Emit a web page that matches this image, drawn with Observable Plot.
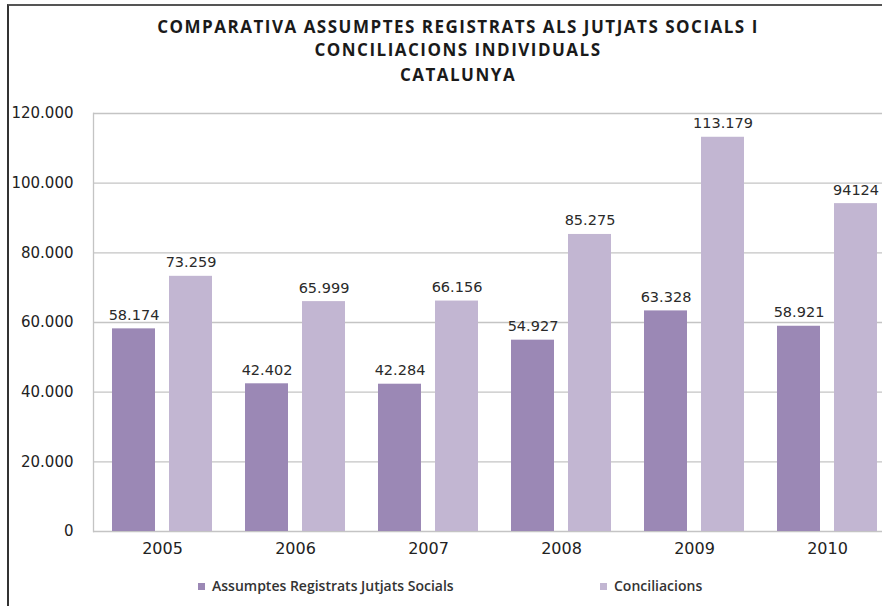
<!DOCTYPE html>
<html>
<head>
<meta charset="utf-8">
<script src="https://cdn.jsdelivr.net/npm/d3@7"></script>
<script src="https://cdn.jsdelivr.net/npm/@observablehq/plot@0.6"></script>
<style>
  html, body { margin: 0; padding: 0; background: #fff; }
  #wrap { position: relative; width: 882px; height: 606px; overflow: hidden; background: #fff; }
  #border { position: absolute; left: 7px; top: 4px; width: 900px; height: 620px;
            border-top: 2px solid #555; border-left: 2px solid #333; }
  .title { position: absolute; left: 0; width: 916px; text-align: center;
           font-family: "Open Sans", sans-serif; font-weight: 700; font-size: 17px;
           letter-spacing: 1.5px; color: #1a1a1a; line-height: 20px; }
  #chart { position: absolute; left: 0; top: 100px; }
  #chart svg { max-width: none !important; }
  .leg { position: absolute; font-family: "Open Sans", sans-serif; font-weight: 600; font-size: 14px;
         color: #333; line-height: 18px; white-space: nowrap; }
  .sw { position: absolute; width: 7px; height: 7px; }
</style>
</head>
<body>
<div id="wrap">
  <div id="border"></div>
  <div class="title" style="top:17px">COMPARATIVA ASSUMPTES REGISTRATS ALS JUTJATS SOCIALS I</div>
  <div class="title" style="top:40px">CONCILIACIONS INDIVIDUALS</div>
  <div class="title" style="top:65px">CATALUNYA</div>
  <div id="chart"></div>
  <div id="legend"></div>
</div>
<script>
const years = ["2005", "2006", "2007", "2008", "2009", "2010"];
const registrats = [58174, 42402, 42284, 54927, 63328, 58921];
const conciliacions = [73259, 65999, 66156, 85275, 113179, 94124];
const registratsLabels = ["58.174", "42.402", "42.284", "54.927", "63.328", "58.921"];
const conciliacionsLabels = ["73.259", "65.999", "66.156", "85.275", "113.179", "94124"];
const yTicks = [0, 20000, 40000, 60000, 80000, 100000, 120000];
const yTickLabels = ["0", "20.000", "40.000", "60.000", "80.000", "100.000", "120.000"];
const seriesNames = ["Assumptes Registrats Jutjats Socials", "Conciliacions"];
const seriesColors = ["#9b88b5", "#c2b6d2"];

const data = years.map((y, i) => ({
  year: y,
  reg: registrats[i], con: conciliacions[i],
  regLabel: registratsLabels[i], conLabel: conciliacionsLabels[i]
}));

const chart = Plot.plot({
  width: 904,
  height: 461,
  marginLeft: 93,
  marginRight: 8,
  marginTop: 13,
  marginBottom: 30,
  style: { fontFamily: "DejaVu Sans", fontSize: "15px", color: "#222", background: "transparent", maxWidth: "none" },
  x: { type: "band", domain: years, paddingInner: 0.25, paddingOuter: 0.125, label: null },
  y: { domain: [0, 120000], label: null },
  marks: [
    Plot.ruleY(yTicks, { stroke: "#c4c4c4", strokeWidth: 1.3 }),
    Plot.frame({ anchor: "left", stroke: "#c4c4c4", strokeWidth: 1.3 }),
    Plot.barY(data, { x: "year", y: "reg", fill: seriesColors[0], insetRight: 57 }),
    Plot.barY(data, { x: "year", y: "con", fill: seriesColors[1], insetLeft: 57 }),
    Plot.text(data, { x: "year", y: "reg", text: "regLabel", dx: -28.5, dy: -9, lineAnchor: "bottom",
                      fill: "#2a2a2a", fontSize: 14.5, letterSpacing: "0.3px" }),
    Plot.text(data, { x: "year", y: "con", text: "conLabel", dx: 28.5, dy: -9, lineAnchor: "bottom",
                      fill: "#2a2a2a", fontSize: 14.5, letterSpacing: "0.3px" }),
    Plot.axisY({ ticks: yTicks, tickFormat: (d) => yTickLabels[yTicks.indexOf(d)], tickSize: 0,
                 tickPadding: 20, fontSize: 15, fill: "#222", label: null }),
    Plot.axisX({ tickSize: 0, tickPadding: 11, fontSize: 16, fill: "#222", label: null })
  ]
});
document.getElementById("chart").appendChild(chart);

const legend = document.getElementById("legend");
const legPos = [198, 600];
seriesNames.forEach((name, i) => {
  const sw = document.createElement("div");
  sw.className = "sw";
  sw.style.left = legPos[i] + "px";
  sw.style.top = "583px";
  sw.style.background = seriesColors[i];
  legend.appendChild(sw);
  const t = document.createElement("div");
  t.className = "leg";
  t.style.left = (legPos[i] + 14) + "px";
  t.style.top = "577px";
  t.textContent = name;
  legend.appendChild(t);
});
</script>
</body>
</html>
